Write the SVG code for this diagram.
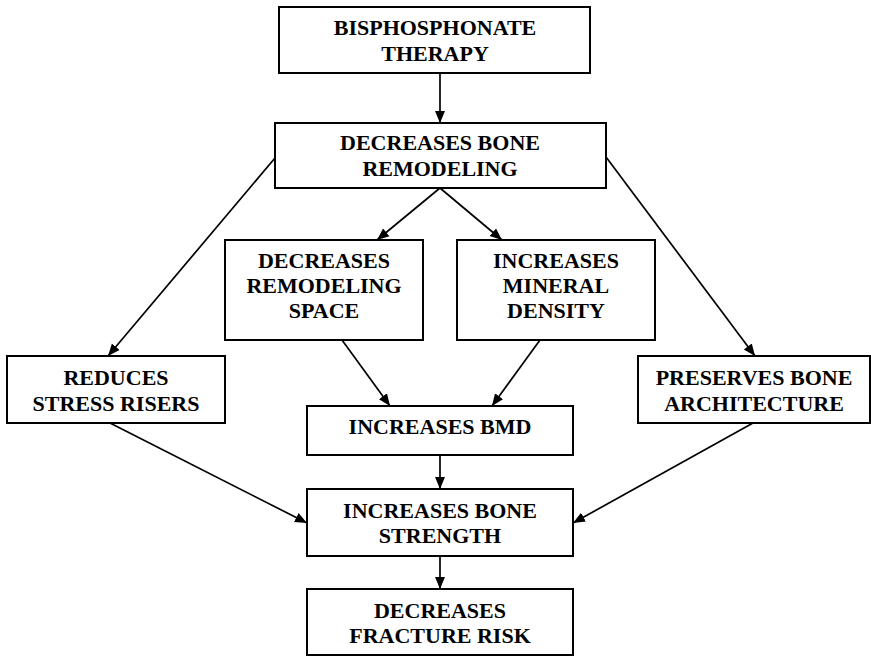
<svg xmlns="http://www.w3.org/2000/svg" width="871" height="656" viewBox="0 0 871 656">
<style>
.box{fill:#fff;stroke:#000;stroke-width:2}
.t{font-family:"Liberation Serif","Times New Roman",serif;font-weight:bold;font-size:22px;text-anchor:middle;fill:#000}
.c{stroke:#000;stroke-width:1.7;fill:none;marker-end:url(#ah)}
</style>
<defs>
<marker id="ah" markerUnits="userSpaceOnUse" markerWidth="14" markerHeight="12" viewBox="0 0 14 12" refX="12" refY="6" orient="auto">
<path d="M0,1 L12,6 L0,11 Z" fill="#000"/>
</marker>
</defs>
<rect width="871" height="656" fill="#fff"/>
<g id="connectors">
<line class="c" x1="440" y1="73" x2="440" y2="123"/>
<line class="c" x1="440" y1="188" x2="377" y2="240"/>
<line class="c" x1="440" y1="188" x2="502" y2="240"/>
<line class="c" x1="275" y1="158" x2="108" y2="356"/>
<line class="c" x1="606" y1="157" x2="755" y2="356"/>
<line class="c" x1="342" y1="340" x2="390" y2="406"/>
<line class="c" x1="540" y1="340" x2="492" y2="406"/>
<line class="c" x1="110" y1="423" x2="307" y2="523"/>
<line class="c" x1="753" y1="423" x2="573" y2="523"/>
<line class="c" x1="440" y1="455" x2="440" y2="489"/>
<line class="c" x1="440" y1="556" x2="440" y2="589"/>
</g>
<g id="n1"><rect class="box" x="279" y="7" width="311" height="66"/><text class="t" x="435" y="35">BISPHOSPHONATE</text><text class="t" x="435" y="61">THERAPY</text></g>
<g id="n2"><rect class="box" x="275" y="123" width="331" height="65"/><text class="t" x="440" y="150">DECREASES BONE</text><text class="t" x="440" y="176">REMODELING</text></g>
<g id="n3"><rect class="box" x="225" y="240" width="198" height="100"/><text class="t" x="324" y="268">DECREASES</text><text class="t" x="324" y="293">REMODELING</text><text class="t" x="324" y="318">SPACE</text></g>
<g id="n4"><rect class="box" x="457" y="240" width="198" height="100"/><text class="t" x="556" y="268">INCREASES</text><text class="t" x="556" y="293">MINERAL</text><text class="t" x="556" y="318">DENSITY</text></g>
<g id="n5"><rect class="box" x="7" y="356" width="218" height="67"/><text class="t" x="116" y="385">REDUCES</text><text class="t" x="116" y="411">STRESS RISERS</text></g>
<g id="n6"><rect class="box" x="638" y="356" width="232" height="67"/><text class="t" x="754" y="385">PRESERVES BONE</text><text class="t" x="754" y="411">ARCHITECTURE</text></g>
<g id="n7"><rect class="box" x="307" y="406" width="266" height="49"/><text class="t" x="440" y="434">INCREASES BMD</text></g>
<g id="n8"><rect class="box" x="307" y="489" width="266" height="67"/><text class="t" x="440" y="518">INCREASES BONE</text><text class="t" x="440" y="543">STRENGTH</text></g>
<g id="n9"><rect class="box" x="307" y="589" width="266" height="66"/><text class="t" x="440" y="618">DECREASES</text><text class="t" x="440" y="643">FRACTURE RISK</text></g>
</svg>
